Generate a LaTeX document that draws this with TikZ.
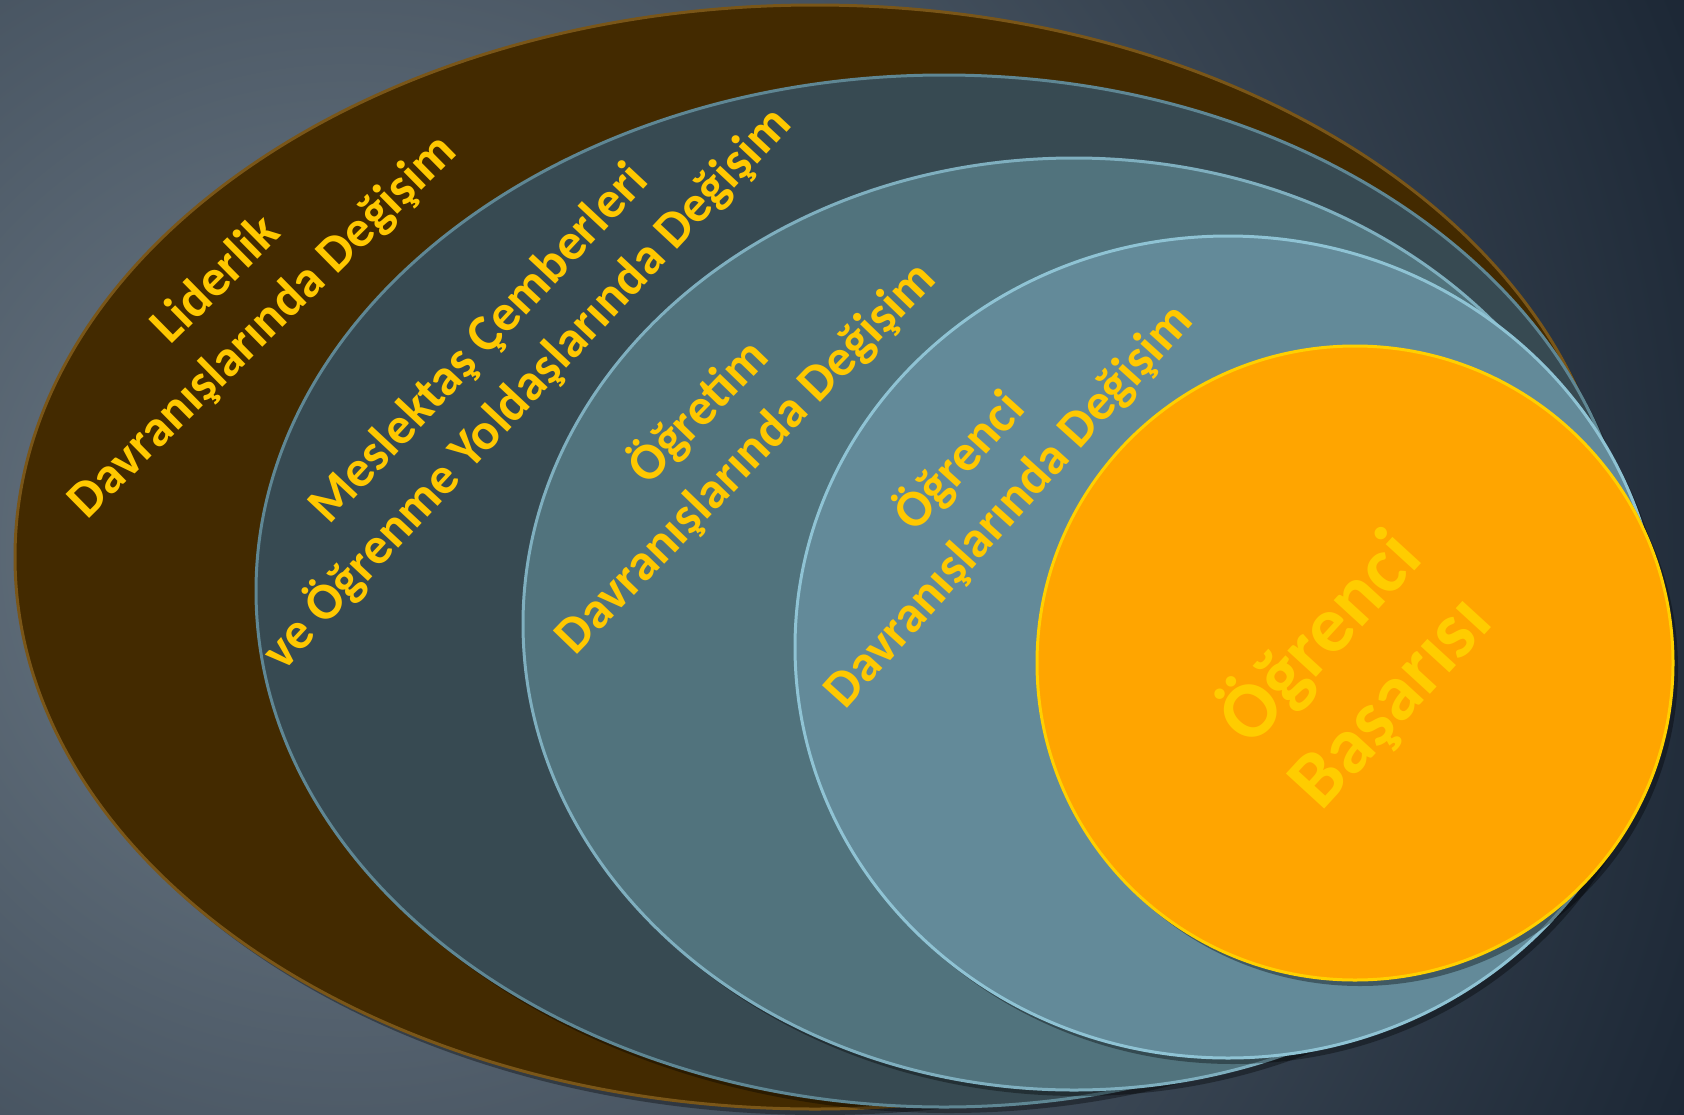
\documentclass[tikz,border=0pt]{standalone}
\usepackage{fontspec}
\setmainfont{Carlito}
\usetikzlibrary{shapes.geometric,shadows}
\definecolor{bgL}{HTML}{6E7C88}
\definecolor{bgD}{HTML}{1C2735}
\definecolor{brownF}{HTML}{432A00}
\definecolor{brownR}{HTML}{7A5618}
\definecolor{slateA}{HTML}{374A52}
\definecolor{slateB}{HTML}{51737D}
\definecolor{slateC}{HTML}{638A99}
\definecolor{rimA}{HTML}{5F8794}
\definecolor{rimB}{HTML}{7FAFBF}
\definecolor{rimC}{HTML}{8FC3D4}
\definecolor{orangeF}{HTML}{FFA500}
\definecolor{orangeR}{HTML}{FFD000}
\definecolor{txt}{HTML}{FFC800}
\definecolor{ctr}{HTML}{FFCC00}
\begin{document}
\begin{tikzpicture}[x=1pt,y=-1pt,
  disc/.style={ellipse, inner sep=0pt, outer sep=0pt, line width=3pt,
    drop shadow={shadow xshift=5pt, shadow yshift=-6pt, opacity=0.35, fill=black}},
  lbl/.style={text=txt, font=\fontsize{52}{66}\selectfont\bfseries, align=center, inner sep=0pt}]
\useasboundingbox (0,0) rectangle (1684,1114);
\begin{scope}
  \clip (0,0) rectangle (1684,1114);
  \shade[inner color=bgL, outer color=bgD] (350,550) circle (1450pt);
\end{scope}
\node[disc, fill=brownF, draw=brownR, minimum width=1600pt, minimum height=1104pt] (lead) at (815,557) {};
\node[disc, fill=slateA, draw=rimA, minimum width=1376pt, minimum height=1032pt] (peer) at (944,591) {};
\node[disc, fill=slateB, draw=rimB, minimum width=1102pt, minimum height=932pt] (teach) at (1074,624) {};
\node[disc, fill=slateC, draw=rimC, minimum width=866pt, minimum height=822pt] (stud) at (1228,647) {};
\node[disc, fill=orangeF, draw=orangeR, minimum width=636pt, minimum height=634pt] (succ) at (1355,663) {};
\node[lbl, rotate=44.6] (t1) at (240,304) {Liderlik\\Davranışlarında Değişim};
\node[lbl, rotate=47] (t2) at (504,367) {Meslektaş Çemberleri\\ve Öğrenme Yoldaşlarında Değişim};
\node[lbl, rotate=46] (t3) at (721,434) {Öğretim\\Davranışlarında Değişim};
\node[lbl, rotate=48] (t4) at (983,483) {Öğrenci\\Davranışlarında Değişim};
\node[lbl, text=ctr, font=\fontsize{80}{95}\selectfont\bfseries, rotate=47.5] (t5) at (1354,669) {Öğrenci\\Başarısı};
\end{tikzpicture}
\end{document}
